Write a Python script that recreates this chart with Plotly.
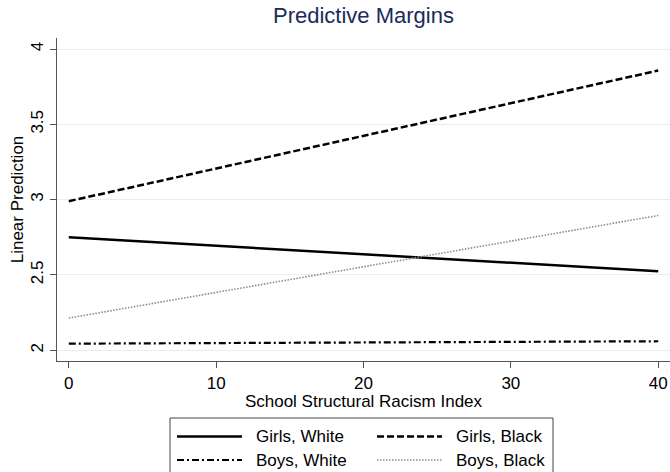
import plotly.graph_objects as go

# ---- data ----
x_vals = [0, 40]
girls_white = [2.75, 2.525]
girls_black = [2.99, 3.857]
boys_white = [2.044, 2.06]
boys_black = [2.214, 2.895]

series_names = ["Girls, White", "Girls, Black", "Boys, White", "Boys, Black"]
series_values = [girls_white, girls_black, boys_white, boys_black]
series_styles = [
    dict(color="black", width=2.5, dash="solid"),
    dict(color="black", width=2.5, dash="7px,3px"),
    dict(color="black", width=2.2, dash="7px,3px,2px,3px"),
    dict(color="#8a8a8a", width=1.6, dash="1.5px,1.5px"),
]

y_ticks = [2, 2.5, 3, 3.5, 4]
y_ticklabels = ["2", "2.5", "3", "3.5", "4"]
x_ticks = [0, 10, 20, 30, 40]
x_ticklabels = ["0", "10", "20", "30", "40"]

FONT = "Liberation Sans, Arial, Helvetica, sans-serif"
W, H = 670, 472
L, R, T, B = 57, 0, 38, 111
PW, PH = W - L - R, H - T - B


def px_x(p):
    return (p - L) / PW


def px_y(p):
    return (H - B - p) / PH


fig = go.Figure()
for name, vals, st in zip(series_names, series_values, series_styles):
    fig.add_trace(go.Scatter(x=x_vals, y=vals, mode="lines", name=name,
                             line=st, showlegend=False, hoverinfo="skip"))

# ---- manual legend (box, samples, labels) ----
shapes = [dict(type="rect", xref="paper", yref="paper",
               x0=px_x(170), x1=px_x(553), y0=px_y(485), y1=px_y(418),
               line=dict(color="#444444", width=1), fillcolor="rgba(0,0,0,0)",
               layer="above")]
annotations = []
legend_pos = [(177, 436.5), (377, 436.5), (177, 460), (377, 460)]
for (lx, ly), name, st in zip(legend_pos, series_names, series_styles):
    shapes.append(dict(type="line", xref="paper", yref="paper",
                       x0=px_x(lx), x1=px_x(lx + 65), y0=px_y(ly), y1=px_y(ly),
                       line=st))
    annotations.append(dict(xref="paper", yref="paper", x=px_x(lx + 77), y=px_y(ly),
                            xanchor="left", yanchor="middle", text=name, showarrow=False,
                            font=dict(family=FONT, size=17, color="black")))

fig.update_layout(
    width=W, height=H,
    margin=dict(l=L, r=R, t=T, b=B),
    paper_bgcolor="white", plot_bgcolor="white",
    title=dict(text="Predictive Margins", x=0.5, xref="paper", xanchor="center",
               y=1 - 15 / H, yref="container", yanchor="middle",
               font=dict(family=FONT, size=22, color="#1c2a5c")),
    showlegend=False,
    shapes=shapes,
    annotations=annotations,
    xaxis=dict(range=[-0.8, 40.8], tickvals=x_ticks, ticktext=x_ticklabels,
               showgrid=False, zeroline=False, showline=True, linecolor="#555555",
               linewidth=1.2, ticks="outside", ticklen=6, tickcolor="#555555",
               tickfont=dict(family=FONT, size=17, color="black"),
               title=dict(text="School Structural Racism Index", standoff=0,
                          font=dict(family=FONT, size=17, color="black"))),
    yaxis=dict(range=[1.929, 4.073], tickvals=y_ticks, ticktext=y_ticklabels,
               tickangle=-90, showgrid=True, gridcolor="#e6eef3", gridwidth=1,
               zeroline=False, showline=True, linecolor="#555555", linewidth=1.2,
               ticks="outside", ticklen=6, tickcolor="#555555",
               tickfont=dict(family=FONT, size=17, color="black"),
               title=dict(text="Linear Prediction", standoff=0,
                          font=dict(family=FONT, size=17, color="black"))),
)

fig.write_html("out.html",
               config={"displayModeBar": False},
               post_script="document.body.style.margin='0px';"
                           "document.body.style.overflow='hidden';")
